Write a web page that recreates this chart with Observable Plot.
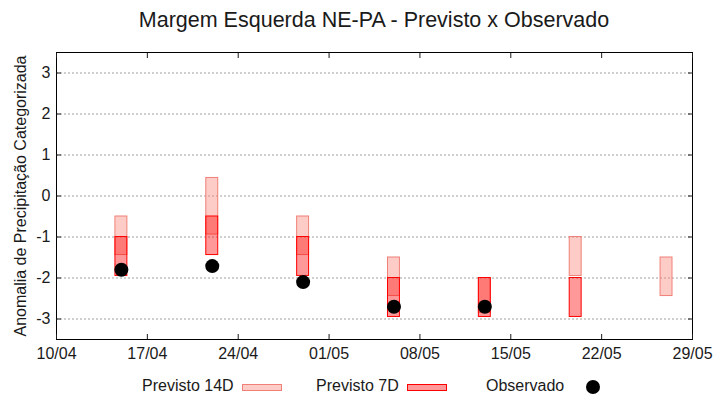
<!DOCTYPE html>
<html><head><meta charset="utf-8">
<script src="https://cdn.jsdelivr.net/npm/d3@7"></script>
<script src="https://cdn.jsdelivr.net/npm/@observablehq/plot@0.6"></script>
<style>
body{margin:0;background:#fff;font-family:"Liberation Sans",Arial,sans-serif;}
#wrap{position:relative;width:720px;height:400px;overflow:hidden;background:#fff;}
#title{position:absolute;left:56px;top:8px;width:636px;text-align:center;font-size:21.5px;line-height:24px;color:#1a1a1a;white-space:nowrap;}
#chart{position:absolute;left:0;top:40px;}
.lg{position:absolute;font-size:16px;line-height:16px;color:#1a1a1a;white-space:nowrap;}
.sw{position:absolute;box-sizing:border-box;}
</style></head><body>
<div id="wrap">
<div id="title">Margem Esquerda NE-PA - Previsto x Observado</div>
<div id="chart"></div>
<div class="lg" style="left:142px;top:378px">Previsto 14D</div>
<div class="sw" style="left:242px;top:384px;width:40px;height:7px;background:rgba(250,128,114,0.4);border:1px solid #f08078"></div>
<div class="lg" style="left:316px;top:378px">Previsto 7D</div>
<div class="sw" style="left:407px;top:384px;width:40px;height:7px;background:rgba(255,0,0,0.4);border:1px solid #ff0000"></div>
<div class="lg" style="left:486px;top:378px">Observado</div>
<div class="sw" style="left:586px;top:380px;width:14px;height:14px;border-radius:50%;background:#000"></div>
</div>
<script>
const dates = ["2024-04-15","2024-04-22","2024-04-29","2024-05-06","2024-05-13","2024-05-20","2024-05-27"];
const p14Top = [-0.5, 0.44, -0.5, -1.5, -2, -1, -1.5];
const p14Bot = [-1.44, -0.94, -1.44, -2.44, -2.85, -1.95, -2.44];
const p7Top = [-1, -0.5, -1, -2, -2, -2, null];
const p7Bot = [-1.95, -1.44, -1.95, -2.95, -2.95, -2.95, null];
const observado = [-1.8, -1.71, -2.1, -2.7, -2.7, null, null];
const xTickLabels = ["2024-04-10","2024-04-17","2024-04-24","2024-05-01","2024-05-08","2024-05-15","2024-05-22","2024-05-29"];
const yTicks = [-3, -2, -1, 0, 1, 2, 3];
const yLabel = "Anomalia de Precipitação Categorizada";

const parse = d3.utcParse("%Y-%m-%d");
const xTicks = xTickLabels.map(parse);
const rows = dates.map((d, i) => ({date: parse(d), t14: p14Top[i], b14: p14Bot[i], t7: p7Top[i], b7: p7Bot[i], obs: observado[i]}));
const halfW = 0.46 * 864e5;
const fmt = d3.utcFormat("%d/%m");
const font = '"Liberation Sans", Arial, sans-serif';

const chart = Plot.plot({
  width: 720, height: 324,
  marginTop: 12, marginBottom: 25, marginLeft: 56, marginRight: 28,
  style: {fontFamily: font, fontSize: "16px", color: "#1a1a1a", background: "white", overflow: "visible"},
  x: {type: "utc", domain: [xTicks[0], xTicks[xTicks.length - 1]]},
  y: {domain: [-3.5, 3.5]},
  marks: [
    Plot.gridY(yTicks, {stroke: "#a0a0a0", strokeOpacity: 1, strokeDasharray: "2,2"}),
    Plot.rect(rows.filter(d => d.t14 != null), {
      x1: d => new Date(+d.date - halfW), x2: d => new Date(+d.date + halfW),
      y1: "b14", y2: "t14", fill: "#fa8072", fillOpacity: 0.4, stroke: "#f08078", strokeWidth: 1
    }),
    Plot.rect(rows.filter(d => d.t7 != null), {
      x1: d => new Date(+d.date - halfW), x2: d => new Date(+d.date + halfW),
      y1: "b7", y2: "t7", fill: "#ff0000", fillOpacity: 0.4, stroke: "#ff0000", strokeWidth: 1
    }),
    Plot.dot(rows.filter(d => d.obs != null), {x: "date", y: "obs", r: 7, fill: "black", stroke: "none"}),
    Plot.frame({stroke: "black", strokeWidth: 1}),
    Plot.axisY(yTicks, {anchor: "left", tickSize: 0, tickPadding: 6, label: null, tickFormat: d => String(d), fontSize: 16}),
    Plot.axisY(yTicks, {anchor: "left", tickSize: -5, text: null, label: null}),
    Plot.axisY(yTicks, {anchor: "right", tickSize: -5, text: null, label: null}),
    Plot.axisX(xTicks, {anchor: "bottom", tickSize: 0, tickPadding: 8, label: null, tickFormat: fmt, fontSize: 16}),
    Plot.axisX(xTicks, {anchor: "bottom", tickSize: -5, text: null, label: null}),
    Plot.axisX(xTicks, {anchor: "top", tickSize: -5, text: null, label: null}),
    Plot.text([yLabel], {text: d => d, frameAnchor: "left", dx: -36, rotate: -90, textAnchor: "middle", lineAnchor: "middle", fontSize: 16, fill: "#1a1a1a"})
  ]
});
document.getElementById("chart").appendChild(chart);
</script>
</body></html>
